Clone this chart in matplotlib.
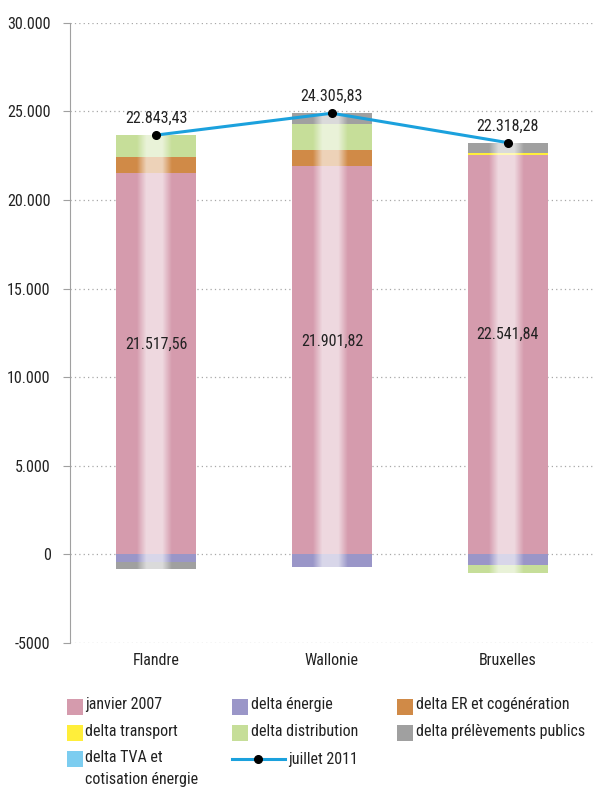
import numpy as np
import matplotlib
matplotlib.use("Agg")
import matplotlib.pyplot as plt
from matplotlib import font_manager
from matplotlib.patches import Rectangle
from matplotlib.lines import Line2D

# narrow-ish font, the original uses a condensed grotesque
names = set(f.name for f in font_manager.fontManager.ttflist)
fam = 'Roboto'
for cand in ["Roboto Condensed", "Liberation Sans Narrow", "Open Sans Condensed"]:
    if cand in names:
        fam = cand
        break
plt.rcParams['font.family'] = [fam, 'DejaVu Sans']

regions = ["Flandre", "Wallonie", "Bruxelles"]
janvier_2007 = [21517.56, 21901.82, 22541.84]
delta_energie = [-435, -700, -600]
delta_er = [900, 950, 0]
delta_transport = [0, 0, 110]
delta_distribution = [1250, 1450, -450]
delta_prelevements = [-378, 600, 590]
delta_tva = [0, 0, 0]
juillet_2011 = [22843.43, 24305.83, 22318.28]

series_labels = ["janvier 2007", "delta énergie", "delta ER et cogénération",
                 "delta transport", "delta distribution", "delta prélèvements publics",
                 "delta TVA et\ncotisation énergie"]
colors = ["#D59BAD", "#9A96C8", "#D08A47", "#FFEE3A", "#C6DE99", "#A0A0A0", "#7CCDF0"]
line_label = "juillet 2011"

yticks = [-5000, 0, 5000, 10000, 15000, 20000, 25000, 30000]
ytick_labels = ["-5000", "0", "5.000", "10.000", "15.000", "20.000", "25.000", "30.000"]


def fmt(v):
    s = "{:,.2f}".format(v)
    return s.replace(",", " ").replace(".", ",").replace(" ", ".")


fs = 11.5
fig = plt.figure(figsize=(6.01, 7.89), dpi=100)
ax = fig.add_axes([0.1165, 0.185, 0.8715, 0.786])

x = np.arange(len(regions))
w = 0.455
series = [janvier_2007, delta_energie, delta_er, delta_transport,
          delta_distribution, delta_prelevements, delta_tva]

pos_base = np.zeros(len(regions))
neg_base = np.zeros(len(regions))
for vals, col in zip(series, colors):
    vals = np.array(vals, dtype=float)
    bottoms = np.where(vals >= 0, pos_base, neg_base)
    ax.bar(x, vals, w, bottom=bottoms, color=col, linewidth=0, zorder=2)
    pos_base = pos_base + np.where(vals > 0, vals, 0)
    neg_base = neg_base + np.where(vals < 0, vals, 0)

# glossy white stripe down the middle of each bar
u = np.linspace(0, 1, 240)
alpha = 0.62 * np.clip((0.22 - np.abs(u - 0.48)) / 0.12, 0, 1)
img = np.ones((1, len(u), 4))
img[0, :, 3] = alpha
for i in range(len(regions)):
    ax.imshow(img, extent=[x[i] - w / 2, x[i] + w / 2, neg_base[i], pos_base[i]],
              aspect='auto', interpolation='bilinear', zorder=3)

# labels inside the pink part
for i, v in enumerate(janvier_2007):
    ax.text(x[i], v * 0.55, fmt(v), ha='center', va='center', fontsize=fs,
            color='#222222', zorder=5)

# juillet 2011 line, drawn at the top of each stack
ax.plot(x, pos_base, color='#1BA1DD', linewidth=2.2, zorder=4)
ax.plot(x, pos_base, 'o', color='black', markersize=5.5, zorder=5)
for i, v in enumerate(juillet_2011):
    ax.annotate(fmt(v), (x[i], pos_base[i]), xytext=(0, 12), textcoords='offset points',
                ha='center', va='center', fontsize=fs, color='#222222', zorder=6)

ax.set_xlim(-0.49, 2.49)
ax.set_ylim(-5000, 30000)
ax.set_yticks(yticks)
ax.set_yticklabels(ytick_labels)
ax.set_xticks(x)
ax.set_xticklabels(regions)
ax.yaxis.grid(True, linestyle=(0, (1, 2.5)), color='#A8A8A8', linewidth=0.9, zorder=0)
ax.set_axisbelow(True)
for s in ['top', 'right', 'bottom']:
    ax.spines[s].set_visible(False)
ax.spines['left'].set_color('#A0A0A0')
ax.tick_params(axis='y', length=5, color='#A0A0A0', pad=9, labelsize=fs, labelcolor='#222222')
ax.tick_params(axis='x', length=0, pad=7, labelsize=fs, labelcolor='#222222')

# legend laid out in 3 columns
col_x = [0.111, 0.386, 0.661]
row_y = [0.104, 0.071, 0.038]
pw, ph = 0.027, 0.021
order = [(0, 0), (0, 1), (0, 2), (1, 0), (1, 1), (1, 2), (2, 0)]
for k, (r, c) in enumerate(order):
    fig.add_artist(Rectangle((col_x[c], row_y[r] - ph / 2), pw, ph,
                             transform=fig.transFigure, color=colors[k], linewidth=0))
    fig.text(col_x[c] + pw + 0.004, row_y[r] + 0.012, series_labels[k], ha='left', va='top',
             fontsize=fs, color='#222222', linespacing=1.6)
fig.add_artist(Line2D([0.386, 0.474], [row_y[2], row_y[2]], transform=fig.transFigure,
                      color='#1BA1DD', linewidth=2.2))
fig.add_artist(Line2D([0.43], [row_y[2]], transform=fig.transFigure, marker='o',
                      color='black', markersize=5.5))
fig.text(0.479, row_y[2], line_label, ha='left', va='center', fontsize=fs, color='#222222')

fig.savefig("out.png", dpi=100)
